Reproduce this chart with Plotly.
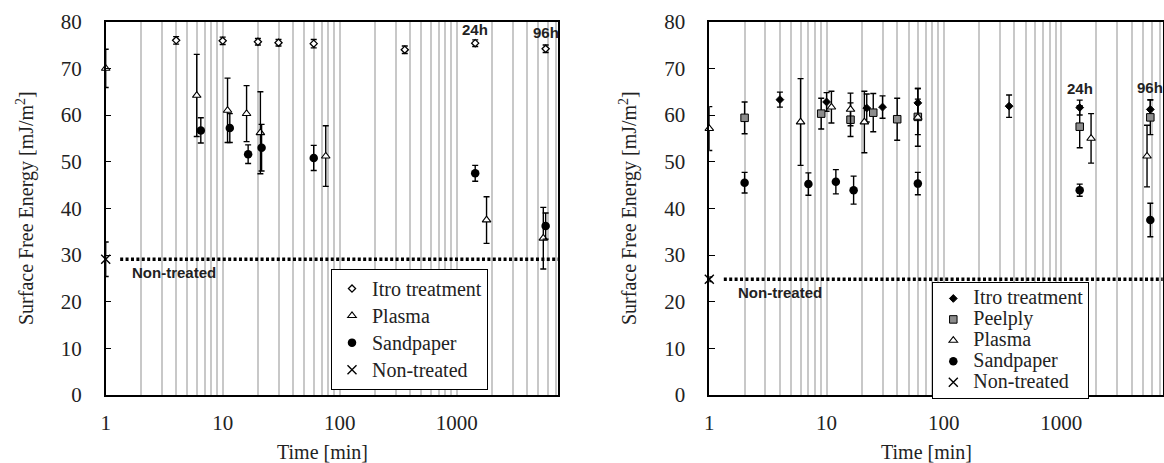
import math
import plotly.graph_objects as go

# ---------------- data ----------------
# Left panel
itro_L_t = [4, 10, 20, 30, 60, 360, 1440, 5760]
itro_L_y = [76.0, 75.9, 75.7, 75.5, 75.3, 74.0, 75.4, 74.2]
itro_L_e = [0.8, 0.8, 0.7, 0.7, 0.9, 0.8, 0.7, 0.8]

plasma_L_t = [1, 6, 11, 16, 21, 76, 1800, 5500]
plasma_L_y = [70.0, 64.2, 61.0, 60.3, 56.2, 51.2, 37.5, 33.6]
plasma_L_e = [4.1, 8.8, 6.9, 6.0, 8.8, 6.5, 5.0, 6.6]

sand_L_t = [6.5, 11.5, 16.5, 21.5, 60, 1440, 5760]
sand_L_y = [56.7, 57.2, 51.6, 53.0, 50.8, 47.5, 36.2]
sand_L_e = [2.7, 3.1, 2.0, 5.0, 2.7, 1.7, 2.8]

non_L_t = [1]
non_L_y = [29.1]
non_L_e = [3.7]

# Right panel
itro_R_t = [4, 10, 22, 30, 60, 360, 1440, 5760]
itro_R_y = [63.3, 62.8, 61.5, 61.7, 62.6, 61.9, 61.6, 61.2]
itro_R_e = [1.6, 2.0, 3.0, 2.4, 3.1, 2.4, 1.6, 2.1]

peel_R_t = [2, 9, 16, 25, 40, 60, 1440, 5760]
peel_R_y = [59.4, 60.3, 59.0, 60.5, 59.1, 59.6, 57.5, 59.5]
peel_R_e = [3.4, 3.3, 3.6, 4.1, 4.5, 3.8, 4.5, 3.7]

plasma_R_t = [1, 6, 11, 16, 21, 60, 1800, 5400]
plasma_R_y = [57.1, 58.5, 61.7, 61.2, 58.5, 59.5, 55.0, 51.2]
plasma_R_e = [4.7, 9.3, 3.4, 3.5, 6.6, 6.2, 5.3, 6.6]

sand_R_t = [2, 7, 12, 17, 60, 1440, 5760]
sand_R_y = [45.5, 45.2, 45.7, 43.9, 45.3, 43.9, 37.5]
sand_R_e = [2.2, 2.4, 2.6, 3.0, 2.4, 1.3, 3.6]

non_R_t = [1]
non_R_y = [24.8]
non_R_e = [0.5]

time_label_text = ["24h", "96h"]
time_label_t = [1440, 5760]

x_tick_labels = ["1", "10", "100", "1000"]
y_ticks = [0, 10, 20, 30, 40, 50, 60, 70, 80]

# ---------------- styling ----------------
SERIF = "Liberation Serif"
SANS = "Liberation Sans"
W, H = 1164, 463
X_MAX_LOG = 3.866

grid_vals = [m * 10 ** k for k in range(4) for m in range(1, 10) if m * 10 ** k <= 10 ** X_MAX_LOG]
grid_text = [str(v) if str(v) in x_tick_labels else "" for v in grid_vals]


def err(arr):
    return dict(type="data", array=arr, visible=True, color="black", thickness=1.4, width=3)


def leg_name(txt):
    return '<span style="font-size:20px">%s</span>' % txt


fig = go.Figure()


def add(t, y, e, name, marker, xa, ya, legend):
    fig.add_trace(go.Scatter(
        x=t, y=y, mode="markers", name=leg_name(name), marker=marker, error_y=err(e),
        xaxis=xa, yaxis=ya, legend=legend, hoverinfo="skip", cliponaxis=False))


open_diamond = dict(symbol="diamond", size=5.5, color="white", line=dict(color="black", width=1.3))
tri = dict(symbol="triangle-up", size=7.5, color="white", line=dict(color="black", width=1.1))
circ = dict(symbol="circle", size=8.5, color="black", line=dict(color="black", width=0))
xmark = dict(symbol="x-thin", size=9, color="black", line=dict(color="black", width=1.4))
fdiamond = dict(symbol="diamond", size=6, color="black", line=dict(color="black", width=1))
sq = dict(symbol="square", size=7.5, color="#8c8c8c", line=dict(color="black", width=1))

# left
add(itro_L_t, itro_L_y, itro_L_e, "Itro treatment", open_diamond, "x", "y", "legend")
add(plasma_L_t, plasma_L_y, plasma_L_e, "Plasma", tri, "x", "y", "legend")
add(sand_L_t, sand_L_y, sand_L_e, "Sandpaper", circ, "x", "y", "legend")
add(non_L_t, non_L_y, non_L_e, "Non-treated", xmark, "x", "y", "legend")
# right
add(itro_R_t, itro_R_y, itro_R_e, "Itro treatment", fdiamond, "x2", "y2", "legend2")
add(peel_R_t, peel_R_y, peel_R_e, "Peelply", sq, "x2", "y2", "legend2")
add(plasma_R_t, plasma_R_y, plasma_R_e, "Plasma", tri, "x2", "y2", "legend2")
add(sand_R_t, sand_R_y, sand_R_e, "Sandpaper", circ, "x2", "y2", "legend2")
add(non_R_t, non_R_y, non_R_e, "Non-treated", xmark, "x2", "y2", "legend2")

y_dom = [(H - 395) / H, (H - 21.7) / H]


def xaxis(dom, anchor):
    return dict(
        type="log", range=[0, X_MAX_LOG], domain=dom, anchor=anchor,
        tickmode="array", tickvals=grid_vals, ticktext=grid_text,
        showgrid=True, gridcolor="#c8c8c8", gridwidth=1.5,
        ticks="", showline=True, linecolor="black", linewidth=1.5, mirror=True,
        tickfont=dict(family=SERIF, size=21, color="#222"), ticklabelstandoff=8,
        zeroline=False, fixedrange=True)


def yaxis(anchor):
    return dict(
        range=[0, 80], domain=y_dom, anchor=anchor, tickmode="array", tickvals=y_ticks,
        showgrid=False, zeroline=False, ticks="inside", ticklen=6, tickwidth=1.2, tickcolor="black",
        showline=True, linecolor="black", linewidth=1.5, mirror=True,
        tickfont=dict(family=SERIF, size=21, color="#222"), ticklabelstandoff=18, fixedrange=True)


shapes = []
for xr, yr, yv in (("x domain", "y", non_L_y[0]), ("x2 domain", "y2", non_R_y[0])):
    shapes.append(dict(type="line", xref=xr, yref=yr, x0=0.032, x1=1, y0=yv, y1=yv,
                       line=dict(color="black", width=3.5, dash="3px,2.4px"), layer="above"))

annotations = []
bold = dict(family=SANS, size=15, color="#222")
# time labels
for txt, t, ys in zip(time_label_text, time_label_t, (78.4, 77.6)):
    annotations.append(dict(text="<b>%s</b>" % txt, x=math.log10(t), y=ys, xref="x", yref="y",
                            showarrow=False, font=bold))
for txt, t, ys in zip(time_label_text, time_label_t, (65.7, 65.9)):
    annotations.append(dict(text="<b>%s</b>" % txt, x=math.log10(t), y=ys, xref="x2", yref="y2",
                            showarrow=False, font=bold))
# Non-treated labels
annotations.append(dict(text="<b>Non-treated</b>", x=0.054, y=non_L_y[0] - 2.9, xref="x domain", yref="y",
                        xanchor="left", yanchor="middle", showarrow=False, font=bold))
annotations.append(dict(text="<b>Non-treated</b>", x=0.058, y=non_R_y[0] - 2.9, xref="x2 domain", yref="y2",
                        xanchor="left", yanchor="middle", showarrow=False, font=bold))
# axis titles
title_font = dict(family=SERIF, size=20, color="#222")
for px in (25, 628):
    annotations.append(dict(text="Surface Free Energy [mJ/m<sup>2</sup>]", x=px / W, y=1 - 208 / H,
                            xref="paper", yref="paper", xanchor="center", yanchor="middle",
                            textangle=-90, showarrow=False, font=title_font))
for px in (322.7, 926.7):
    annotations.append(dict(text="Time [min]", x=px / W, y=1 - 451.7 / H, xref="paper", yref="paper",
                            xanchor="center", yanchor="middle", showarrow=False, font=title_font))

legend_common = dict(bgcolor="white", bordercolor="black", borderwidth=1, xanchor="left", yanchor="top",
                     itemclick=False, itemdoubleclick=False)

fig.update_layout(
    width=W, height=H, margin=dict(l=0, r=0, t=0, b=0, autoexpand=False),
    paper_bgcolor="white", plot_bgcolor="white",
    xaxis=xaxis([105.7 / W, 558 / W], "y"),
    yaxis=yaxis("x"),
    xaxis2=xaxis([709.3 / W, 1162.7 / W], "y2"),
    yaxis2=yaxis("x2"),
    shapes=shapes, annotations=annotations,
    legend=dict(x=331 / W, y=1 - 269 / H, font=dict(family=SERIF, size=18.5, color="#222"), **legend_common),
    legend2=dict(x=932.3 / W, y=1 - 282 / H, font=dict(family=SERIF, size=13.8, color="#222"), **legend_common),
)

fig.write_html("out.html")
